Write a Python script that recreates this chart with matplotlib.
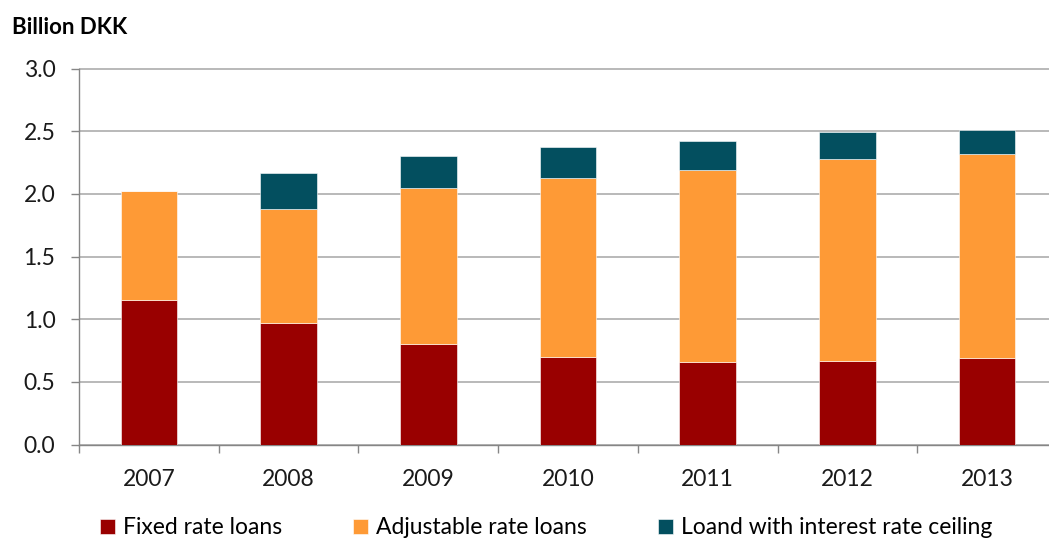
import matplotlib
matplotlib.use('Agg')
import matplotlib.pyplot as plt
import numpy as np

years = ['2007', '2008', '2009', '2010', '2011', '2012', '2013']
fixed = [1.15, 0.97, 0.80, 0.70, 0.66, 0.67, 0.69]
adjustable = [0.87, 0.91, 1.25, 1.43, 1.53, 1.61, 1.63]
ceiling = [0.00, 0.29, 0.25, 0.24, 0.23, 0.21, 0.19]

labels = ['Fixed rate loans', 'Adjustable rate loans', 'Loand with interest rate ceiling']
colors = ['#990000', '#FE9A36', '#034F5F']

plt.rcParams['font.family'] = ['Lato', 'DejaVu Sans']

W, H = 1049, 541
fig = plt.figure(figsize=(W / 100, H / 100), dpi=100)
ax = fig.add_axes([79 / W, 96.5 / H, 978 / W, 376 / H])

x = np.arange(len(years))
bw = 0.405
fixed = np.array(fixed)
adjustable = np.array(adjustable)
ceiling = np.array(ceiling)

b1 = ax.bar(x, fixed, bw, color=colors[0], edgecolor='white', linewidth=0.4, zorder=3)
b2 = ax.bar(x, adjustable, bw, bottom=fixed, color=colors[1], edgecolor='white', linewidth=0.4, zorder=3)
b3 = ax.bar(x, ceiling, bw, bottom=fixed + adjustable, color=colors[2], edgecolor='white', linewidth=0.4, zorder=3)

ax.set_xlim(-0.5, len(years) - 0.5)
ax.set_ylim(0, 3.0)
ax.set_yticks(np.arange(0, 3.01, 0.5))
ax.set_yticklabels([f'{v:.1f}' for v in np.arange(0, 3.01, 0.5)])
ax.yaxis.grid(True, color='#B3B3B3', linewidth=1.3, zorder=0)
ax.set_axisbelow(True)

# category boundaries get the tick marks, year labels sit between them
ax.set_xticks(np.arange(-0.5, len(years), 1.0))
ax.set_xticklabels([])
ax.set_xticks(x, minor=True)
ax.set_xticklabels(years, minor=True)
ax.tick_params(axis='x', which='major', length=6, width=1, color='#868686', direction='out')
ax.tick_params(axis='x', which='minor', length=0, pad=18, labelsize=16.5, labelcolor='#1a1a1a')
ax.tick_params(axis='y', length=6, width=1, color='#868686', pad=11, labelsize=16.5, labelcolor='#1a1a1a')

for s in ['top', 'right']:
    ax.spines[s].set_visible(False)
for s in ['left', 'bottom']:
    ax.spines[s].set_color('#868686')
    ax.spines[s].set_linewidth(1)

fig.text(12 / W, 1 - 34 / H, 'Billion DKK', fontsize=16, fontweight='bold', va='baseline', ha='left')

fig.legend([b1, b2, b3], labels, loc='center', bbox_to_anchor=(546 / W, 13 / H), ncol=3,
           frameon=False, fontsize=16.5, handlelength=0.66, handleheight=0.66,
           handletextpad=0.35, columnspacing=3.1)

fig.savefig('out.png', dpi=100)
